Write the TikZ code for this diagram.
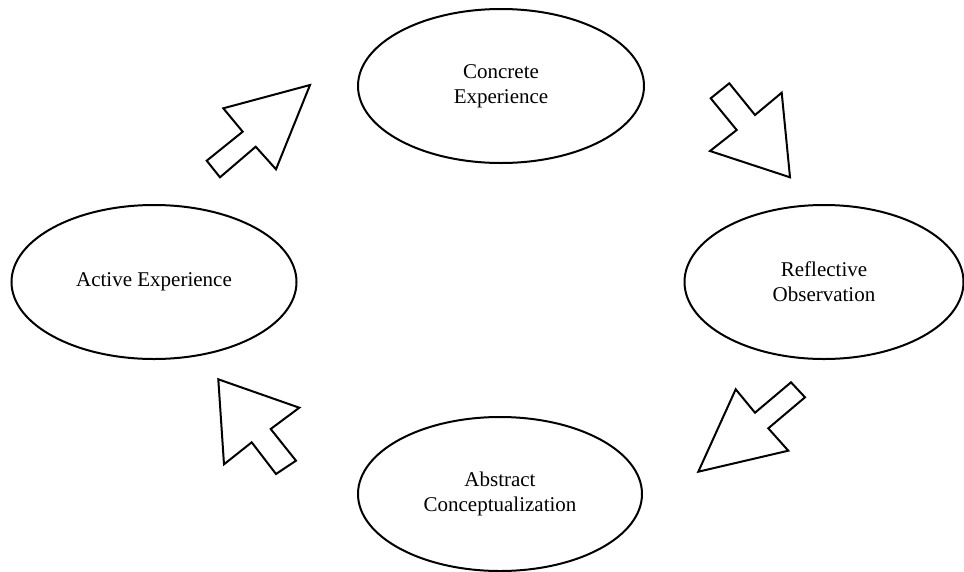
\documentclass[tikz,border=0pt]{standalone}
\usepackage{fontspec}
\setmainfont{Liberation Serif}
\usetikzlibrary{shapes.geometric}
\begin{document}
\begin{tikzpicture}[x=1pt,y=-1pt,
  stage/.style={draw,line width=2pt,ellipse,minimum width=286pt,minimum height=154pt,
    inner sep=0pt,align=center,font=\fontsize{21}{25}\selectfont},
  blockarrow/.style={draw,line width=2pt,line join=miter,fill=white}]
\useasboundingbox (0,0) rectangle (964,571);
\node[stage] (ce) at (501,86) {Concrete\\Experience};
\node[stage,minimum width=279pt] (ro) at (824,282) {Reflective\\Observation};
\node[stage,minimum width=285pt] (ae) at (154,282) {Active Experience};
\node[stage,minimum width=284pt] (ac) at (500,494) {Abstract\\Conceptualization};
% block arrows
\draw[blockarrow] (310,85) -- (276,169.3) -- (255.7,146.7) -- (220,177.3) -- (206.7,160.7) -- (242.7,131.7) -- (223.3,108.3) -- cycle;
\draw[blockarrow] (790,177.3) -- (710,151) -- (736.7,130) -- (710.7,98.3) -- (729.3,83.3) -- (755,115) -- (781.7,92.7) -- cycle;
\draw[blockarrow] (698.3,471.7) -- (735.7,389.3) -- (755,412.7) -- (791,382.3) -- (805,397.3) -- (768.3,428.3) -- (788.3,450.7) -- cycle;
\draw[blockarrow] (218.3,379.3) -- (299.3,407.7) -- (270.7,429) -- (296,460.7) -- (276,474) -- (251.7,442.3) -- (224,464.3) -- cycle;
\end{tikzpicture}
\end{document}
